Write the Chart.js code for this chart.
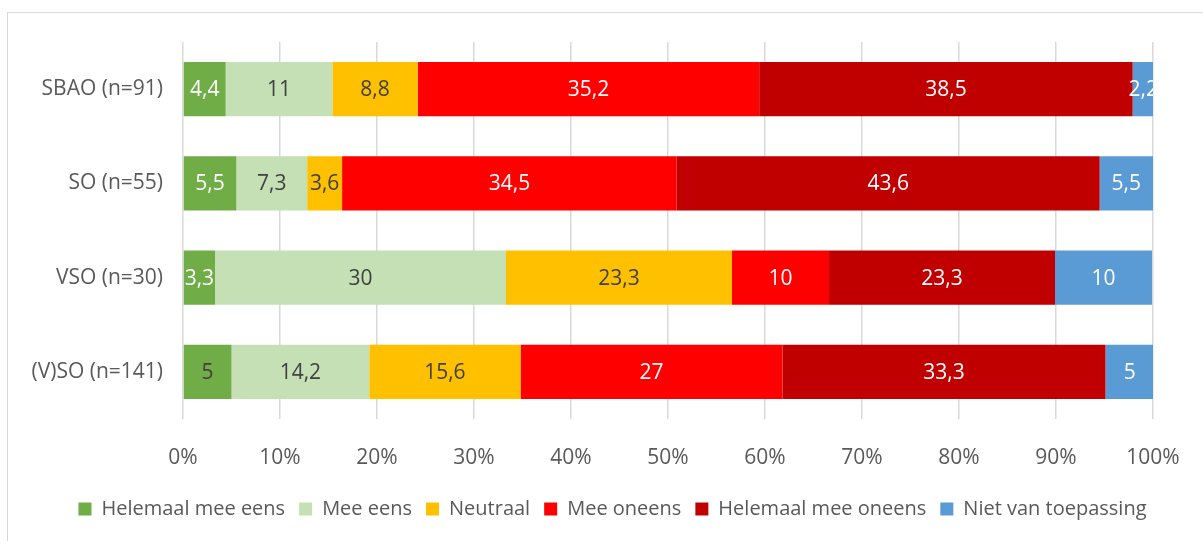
<!DOCTYPE html>
<html>
<head>
<meta charset="utf-8">
<script src="https://cdn.jsdelivr.net/npm/chart.js@4/dist/chart.umd.min.js"></script>
<style>
    html, body { margin: 0; padding: 0; background: #fff; }
    #wrap { position: relative; width: 1203px; height: 541px; overflow: hidden; }
    #frame { position: absolute; left: 7px; top: 12px; width: 1300px; height: 600px; border: 1px solid #d9d9d9; box-sizing: border-box; }
    #chart { position: absolute; left: 0; top: 0; }
</style>
</head>
<body>
<div id="wrap">
    <div id="frame"></div>
    <canvas id="chart" width="1203" height="541"></canvas>
</div>
<script>
// ---------------------------------------------------------------------------
// Data
// ---------------------------------------------------------------------------
const groups = ['SBAO (n=91)', 'SO (n=55)', 'VSO (n=30)', '(V)SO (n=141)'];
const answers = ['Helemaal mee eens', 'Mee eens', 'Neutraal', 'Mee oneens', 'Helemaal mee oneens', 'Niet van toepassing'];

const helemaalEens = [4.4, 5.5, 3.3, 5];
const meeEens = [11, 7.3, 30, 14.2];
const neutraal = [8.8, 3.6, 23.3, 15.6];
const meeOneens = [35.2, 34.5, 10, 27];
const helemaalOneens = [38.5, 43.6, 23.3, 33.3];
const nvt = [2.2, 5.5, 10, 5];

const xTicks = [0, 10, 20, 30, 40, 50, 60, 70, 80, 90, 100];

// ---------------------------------------------------------------------------
// Styling
// ---------------------------------------------------------------------------
const FONT = "'Open Sans', sans-serif";
const TEXT = '#595959';
const DARK = '#404040';
const colors = ['#70ad47', '#c5e0b4', '#ffc000', '#ff0000', '#c00000', '#5b9bd5'];
const labelColors = [
    ['#fff', '#fff', '#fff', DARK],
    DARK, DARK, '#fff', '#fff', '#fff'
];

function fmt(v) {
    return String(v).replace('.', ',');
}

// draws the value in the middle of each bar segment
const valueLabels = {
    id: 'valueLabels',
    afterDatasetsDraw(chart) {
        const ctx = chart.ctx;
        const area = chart.chartArea;
        ctx.save();
        ctx.beginPath();
        ctx.rect(area.left, area.top, area.right - area.left, area.bottom - area.top);
        ctx.clip();
        ctx.font = '21px ' + FONT;
        ctx.textAlign = 'center';
        ctx.textBaseline = 'middle';
        chart.data.datasets.forEach((ds, di) => {
            const meta = chart.getDatasetMeta(di);
            meta.data.forEach((bar, i) => {
                const c = labelColors[di];
                ctx.fillStyle = Array.isArray(c) ? c[i] : c;
                ctx.fillText(fmt(ds.data[i]), (bar.x + bar.base) / 2, bar.y + 1);
            });
        });
        ctx.restore();
    }
};

const series = [helemaalEens, meeEens, neutraal, meeOneens, helemaalOneens, nvt];

new Chart(document.getElementById('chart'), {
    type: 'bar',
    data: {
        labels: groups,
        datasets: series.map((d, i) => ({
            label: answers[i],
            data: d,
            backgroundColor: colors[i],
            borderWidth: 0,
            categoryPercentage: 1,
            barPercentage: 0.575,
        })),
    },
    options: {
        indexAxis: 'y',
        responsive: false,
        animation: false,
        events: [],
        layout: { padding: { top: 42, right: 0, bottom: 12, left: 22 } },
        plugins: {
            legend: {
                position: 'bottom',
                labels: {
                    color: TEXT,
                    font: { family: FONT, size: 20 },
                    boxWidth: 13,
                    boxHeight: 13,
                    padding: 14,
                },
            },
            tooltip: { enabled: false },
        },
        scales: {
            x: {
                stacked: true,
                min: 0,
                max: 100,
                afterBuildTicks: (s) => { s.ticks = xTicks.map(v => ({ value: v })); },
                afterFit: (s) => { s.height = 66; s.paddingRight = 0; s.paddingLeft = 0; },
                ticks: {
                    callback: (v) => v + '%',
                    color: TEXT,
                    font: { family: FONT, size: 21 },
                    padding: 26,
                    maxRotation: 0,
                },
                grid: { color: '#d9d9d9', lineWidth: 1.5, drawTicks: false },
                border: { display: false },
            },
            y: {
                stacked: true,
                afterFit: (s) => { s.width = 161; },
                ticks: {
                    color: TEXT,
                    font: { family: FONT, size: 21 },
                    padding: 12,
                },
                grid: { display: false },
                border: { display: false },
            },
            // empty spacer on the right so the plot ends where the reference does
            spacer: {
                type: 'category',
                position: 'right',
                afterFit: (s) => { s.width = 50; },
                ticks: { display: false },
                grid: { display: false },
                border: { display: false },
            },
        },
    },
    plugins: [valueLabels],
});
</script>
</body>
</html>
